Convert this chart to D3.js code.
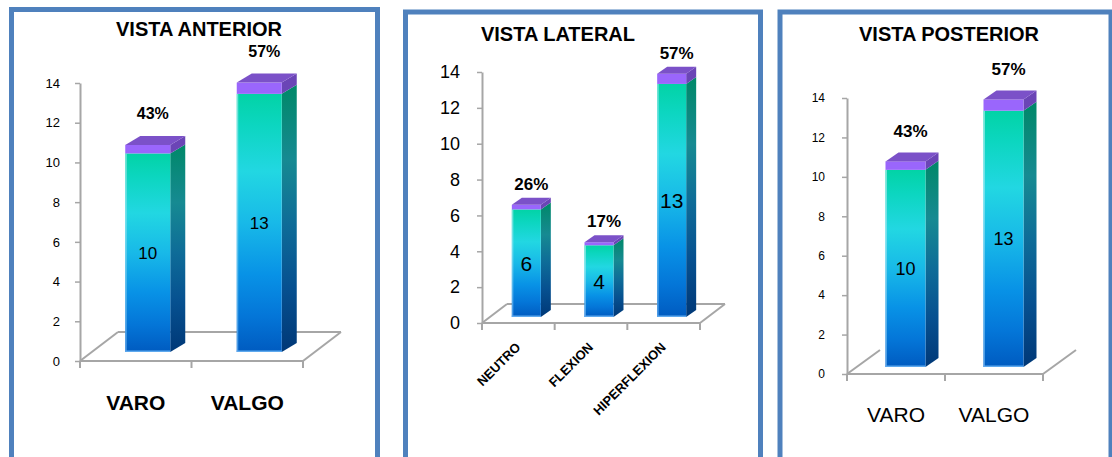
<!DOCTYPE html>
<html>
<head>
<meta charset="utf-8">
<script src="https://cdn.jsdelivr.net/npm/d3@7"></script>
<style>
  html, body { margin: 0; padding: 0; background: #ffffff; }
  svg { display: block; font-family: "Liberation Sans", Arial, sans-serif; }
</style>
</head>
<body>
<script>
// ---- data ----
const yTicks = [0, 2, 4, 6, 8, 10, 12, 14];

const anteriorCats = ["VARO", "VALGO"];
const anteriorValues = [10, 13];
const anteriorPct = [0.43, 0.57];

const lateralCats = ["NEUTRO", "FLEXION", "HIPERFLEXION"];
const lateralValues = [6, 4, 13];
const lateralPct = [0.26, 0.17, 0.57];

const posteriorCats = ["VARO", "VALGO"];
const posteriorValues = [10, 13];
const posteriorPct = [0.43, 0.57];

// ---- layout of the three panels ----
const panels = [
  {
    title: "VISTA ANTERIOR", cats: anteriorCats, values: anteriorValues, pct: anteriorPct,
    box: [11.5, 9.5, 366, 520], titleX: 199, titleY: 36,
    axisX: 80, y0: 361, yTop: 83, right: 303,
    floor: [38, -29], showBack: true,
    barOff: [12, -9], barW: 45, depth: [15, -9],
    tickFont: 13, tickPad: 15, valueFont: 17, pctFont: 16, pctGap: 26, pctShift: 5,
    catFont: 21, catWeight: "bold", catY: 410, rotate: false
  },
  {
    title: "VISTA LATERAL", cats: lateralCats, values: lateralValues, pct: lateralPct,
    box: [405.5, 12, 355, 520], titleX: 558, titleY: 41,
    axisX: 482, y0: 323, yTop: 72, right: 700,
    floor: [25, -19], showBack: true,
    barOff: [8, -6], barW: 29, depth: [10, -7],
    tickFont: 18, tickPad: 17, valueFont: 21, pctFont: 17, pctGap: 15, pctShift: 5,
    catFont: 13, catWeight: "bold", catY: 348, rotate: true
  },
  {
    title: "VISTA POSTERIOR", cats: posteriorCats, values: posteriorValues, pct: posteriorPct,
    box: [780, 12, 331, 520], titleX: 949, titleY: 41,
    axisX: 847, y0: 374, yTop: 98, right: 1043,
    floor: [33, -24], showBack: false,
    barOff: [9.5, -7], barW: 40, depth: [13, -9],
    tickFont: 12, tickPad: 17, valueFont: 18, pctFont: 17, pctGap: 24, pctShift: 5,
    catFont: 21, catWeight: "normal", catY: 422, rotate: false
  }
];

const W = 1112, H = 457;
const axisGray = "#a6a6a6";
const pctFormat = d3.format(".0%");

const svg = d3.select("body").append("svg")
  .attr("width", W).attr("height", H)
  .attr("viewBox", `0 0 ${W} ${H}`);

// ---- gradients for the bar faces ----
const defs = svg.append("defs");
function linearGradient(id, stops) {
  const gr = defs.append("linearGradient").attr("id", id)
    .attr("x1", 0).attr("y1", 0).attr("x2", 0).attr("y2", 1);
  stops.forEach(([o, c]) => gr.append("stop").attr("offset", o).attr("stop-color", c));
}
linearGradient("frontGrad", [
  [0, "#02d3a6"], [0.12, "#0cd6c0"], [0.3, "#22d7e2"], [0.5, "#18b9e8"],
  [0.7, "#0892e6"], [0.86, "#0476d8"], [1, "#005bc0"]
]);
linearGradient("sideGrad", [
  [0, "#008868"], [0.28, "#168a92"], [0.52, "#0e6c98"], [0.76, "#065090"], [1, "#003877"]
]);
linearGradient("edgeGrad", [
  [0, "#8ce8e0"], [0.35, "#80e2f0"], [1, "#5aa6ee"]
]);

function poly(pts) { return "M" + pts.map(p => p.join(",")).join("L") + "Z"; }

panels.forEach(cfg => {
  const g = svg.append("g");

  // panel frame
  g.append("rect")
    .attr("x", cfg.box[0]).attr("y", cfg.box[1])
    .attr("width", cfg.box[2]).attr("height", cfg.box[3])
    .attr("fill", "#ffffff").attr("stroke", "#4f81bd").attr("stroke-width", 5);

  // title
  g.append("text")
    .attr("x", cfg.titleX).attr("y", cfg.titleY)
    .attr("text-anchor", "middle")
    .attr("font-size", 20).attr("font-weight", "bold").attr("fill", "#000")
    .text(cfg.title);

  const y = d3.scaleLinear().domain([0, 14]).range([cfg.y0, cfg.yTop]);
  const x = d3.scaleBand().domain(cfg.cats).range([cfg.axisX, cfg.right]);
  const [fx, fy] = cfg.floor;

  // floor outline
  const floor = g.append("g").attr("stroke", axisGray).attr("stroke-width", 2).attr("fill", "none");
  floor.append("path").attr("d", `M${cfg.axisX},${y(0)}L${cfg.right},${y(0)}`);
  floor.append("path").attr("d", `M${cfg.axisX},${y(0)}L${cfg.axisX + fx},${y(0) + fy}`);
  floor.append("path").attr("d", `M${cfg.right},${y(0)}L${cfg.right + fx},${y(0) + fy}`);
  if (cfg.showBack) {
    floor.append("path").attr("d", `M${cfg.axisX + fx},${y(0) + fy}L${cfg.right + fx},${y(0) + fy}`);
  }
  // category tick marks on the front edge
  const bounds = cfg.cats.map(c => x(c)).concat([cfg.right]);
  floor.selectAll("line.xt").data(bounds).join("line")
    .attr("x1", d => d).attr("x2", d => d)
    .attr("y1", y(0)).attr("y2", y(0) + 7);

  // value axis
  const ax = g.append("g")
    .attr("transform", `translate(${cfg.axisX},0)`)
    .call(d3.axisLeft(y).tickValues(yTicks).tickSize(5).tickPadding(cfg.tickPad).tickSizeOuter(0));
  ax.select(".domain").attr("stroke", axisGray).attr("stroke-width", 2);
  ax.selectAll(".tick line").attr("stroke", axisGray).attr("stroke-width", 1.5);
  ax.selectAll(".tick text")
    .attr("font-size", cfg.tickFont).attr("fill", "#000")
    .attr("font-family", "'Liberation Sans', Arial, sans-serif");

  // 3D bars: value segment plus percentage cap
  const [dx, dy] = cfg.depth;
  const w = cfg.barW;
  cfg.cats.forEach((c, i) => {
    const v = cfg.values[i], p = cfg.pct[i];
    const bx = x(c) + (x.bandwidth() - w) / 2 + cfg.barOff[0];
    const base = y(0) + cfg.barOff[1];
    const top = y(v) + cfg.barOff[1];
    const cap = y(v + p) + cfg.barOff[1];

    // side face of value segment
    g.append("path")
      .attr("d", poly([[bx + w, base], [bx + w + dx, base + dy], [bx + w + dx, top + dy], [bx + w, top]]))
      .attr("fill", "url(#sideGrad)");
    // front face of value segment
    g.append("rect")
      .attr("x", bx).attr("y", top).attr("width", w).attr("height", base - top)
      .attr("fill", "url(#frontGrad)");
    // light left edge and base strip
    g.append("rect")
      .attr("x", bx).attr("y", top).attr("width", 1.5).attr("height", base - top)
      .attr("fill", "url(#edgeGrad)").attr("opacity", 0.8);
    g.append("rect")
      .attr("x", bx).attr("y", base - 1.5).attr("width", w).attr("height", 1.5)
      .attr("fill", "#5ea9ee");

    // percentage cap: side, front, top
    g.append("path")
      .attr("d", poly([[bx + w, top], [bx + w + dx, top + dy], [bx + w + dx, cap + dy], [bx + w, cap]]))
      .attr("fill", "#6b45b6");
    g.append("rect")
      .attr("x", bx).attr("y", cap).attr("width", w).attr("height", top - cap)
      .attr("fill", "#9a66fc");
    g.append("path")
      .attr("d", poly([[bx, cap], [bx + w, cap], [bx + w + dx, cap + dy], [bx + dx, cap + dy]]))
      .attr("fill", "#7b51c8");

    // value label inside the bar
    g.append("text")
      .attr("x", bx + w / 2).attr("y", (base + top) / 2)
      .attr("dy", "0.36em")
      .attr("text-anchor", "middle")
      .attr("font-size", cfg.valueFont).attr("fill", "#000")
      .text(v);

    // percentage label above the bar
    g.append("text")
      .attr("x", bx + w / 2 + cfg.pctShift).attr("y", cap - cfg.pctGap)
      .attr("text-anchor", "middle")
      .attr("font-size", cfg.pctFont).attr("font-weight", "bold").attr("fill", "#000")
      .text(pctFormat(p));
  });

  // category labels
  cfg.cats.forEach(c => {
    const cx = x(c) + x.bandwidth() / 2;
    if (cfg.rotate) {
      g.append("text")
        .attr("transform", `translate(${cx + 3},${cfg.catY}) rotate(-45)`)
        .attr("text-anchor", "end")
        .attr("font-size", cfg.catFont).attr("font-weight", cfg.catWeight).attr("fill", "#000")
        .text(c);
    } else {
      g.append("text")
        .attr("x", cx).attr("y", cfg.catY)
        .attr("text-anchor", "middle")
        .attr("font-size", cfg.catFont).attr("font-weight", cfg.catWeight).attr("fill", "#000")
        .text(c);
    }
  });
});
</script>
</body>
</html>
